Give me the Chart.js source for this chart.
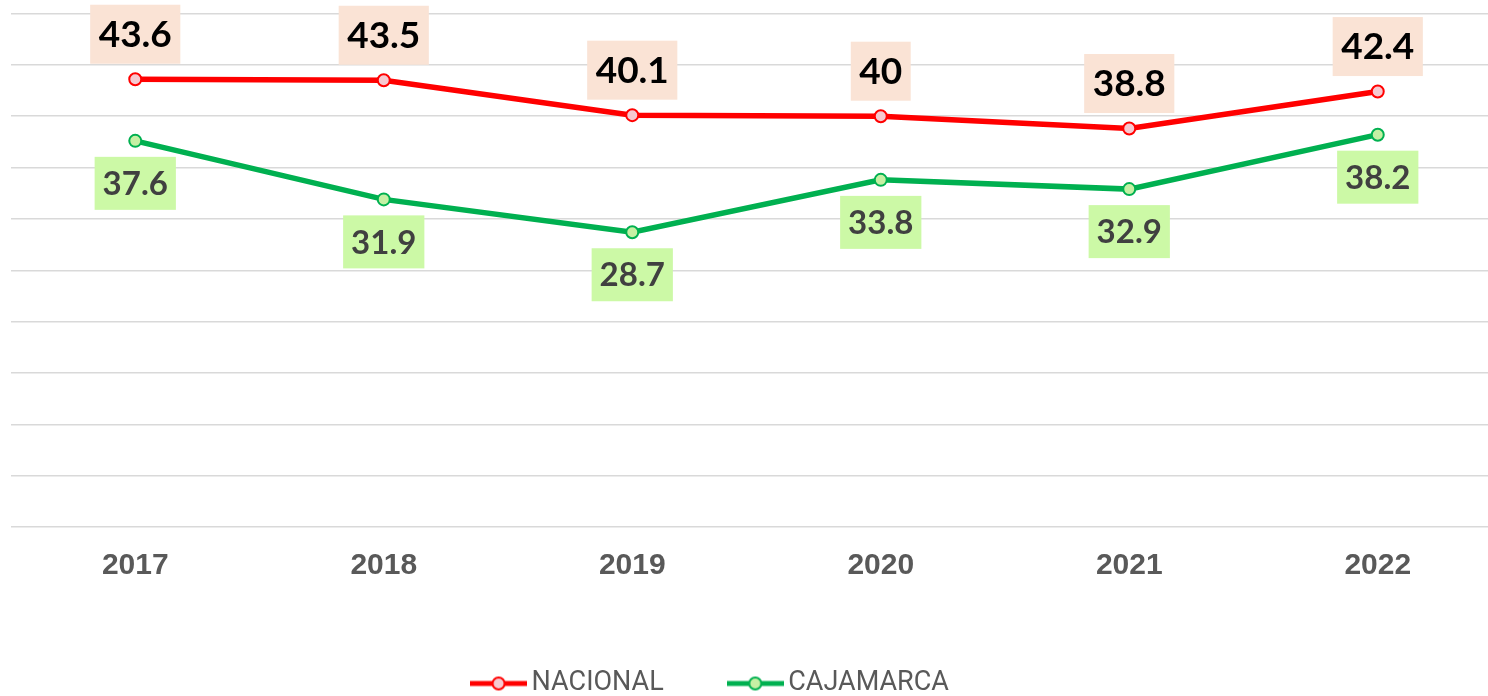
<!DOCTYPE html>
<html>
<head>
<meta charset="utf-8">
<script src="https://cdn.jsdelivr.net/npm/chart.js@4"></script>
<style>
  html, body { margin: 0; padding: 0; background: #fff; overflow: hidden; }
  #wrap { position: absolute; left: 0; top: 0; width: 1510px; height: 707px; }
</style>
</head>
<body>
<div id="wrap"><canvas id="chart"></canvas></div>
<script>
const years = ["2017", "2018", "2019", "2020", "2021", "2022"];
const nacional = [43.6, 43.5, 40.1, 40, 38.8, 42.4];
const cajamarca = [37.6, 31.9, 28.7, 33.8, 32.9, 38.2];

// label box styles per dataset (above for nacional, below for cajamarca)
const labelStyles = [
  { bg: "#fae3d5", color: "#000000", font: "bold 37px Lato", dy: -45, h: 59, padX: 8.5 },
  { bg: "#ccf9a6", color: "#404040", font: "bold 33px Lato", dy: 42.5, h: 53, padX: 8 }
];

function legendMarker(line, fill) {
  const c = document.createElement("canvas");
  c.width = 57; c.height = 16;
  const g = c.getContext("2d");
  g.strokeStyle = line;
  g.lineWidth = 5;
  g.beginPath(); g.moveTo(0, 8); g.lineTo(57, 8); g.stroke();
  g.beginPath(); g.arc(28.5, 8, 6, 0, Math.PI * 2);
  g.fillStyle = fill; g.fill();
  g.lineWidth = 2; g.stroke();
  return c;
}

const dataLabels = {
  id: "dataLabels",
  afterLayout(chart) {
    // legend sits a bit left of the plot centre, like the original
    const lg = chart.legend;
    const d = 714 - (lg.left + lg.right) / 2;
    lg.left += d;
    lg.right += d;
  },
  afterDatasetsDraw(chart) {
    const ctx = chart.ctx;
    chart.data.datasets.forEach((ds, i) => {
      const st = labelStyles[i];
      chart.getDatasetMeta(i).data.forEach((pt, j) => {
        const txt = String(ds.data[j]);
        ctx.save();
        ctx.font = st.font;
        const w = ctx.measureText(txt).width + st.padX * 2;
        const cy = pt.y + st.dy;
        ctx.fillStyle = st.bg;
        ctx.fillRect(pt.x - w / 2, cy - st.h / 2, w, st.h);
        ctx.fillStyle = st.color;
        ctx.textAlign = "center";
        ctx.textBaseline = "middle";
        ctx.fillText(txt, pt.x, cy + 1);
        ctx.restore();
      });
    });
  }
};

new Chart(document.getElementById("chart"), {
  type: "line",
  data: {
    labels: years,
    datasets: [
      {
        label: "NACIONAL",
        data: nacional,
        borderColor: "#ff0000",
        borderWidth: 5.5,
        pointRadius: 6,
        pointBorderWidth: 2,
        pointBackgroundColor: "#f6c9d0",
        pointBorderColor: "#ff0000",
        tension: 0
      },
      {
        label: "CAJAMARCA",
        data: cajamarca,
        borderColor: "#00b050",
        borderWidth: 5.5,
        pointRadius: 6,
        pointBorderWidth: 2,
        pointBackgroundColor: "#c6f0a4",
        pointBorderColor: "#00b050",
        tension: 0
      }
    ]
  },
  options: {
    responsive: true,
    maintainAspectRatio: false,
    animation: false,
    layout: { padding: { top: 13.5, left: 11, right: 0, bottom: 0 } },
    scales: {
      x: {
        offset: true,
        grid: { display: false, drawTicks: false },
        border: { display: false },
        ticks: {
          color: "#595959",
          font: { family: "Liberation Sans", size: 30, weight: "bold" },
          padding: 21
        },
        afterFit(scale) { scale.height = 71; }
      },
      y: {
        min: 0,
        max: 50,
        ticks: { display: false, stepSize: 5 },
        grid: { color: "#d9d9d9", lineWidth: 1.5, drawTicks: false },
        border: { display: false }
      }
    },
    plugins: {
      tooltip: { enabled: false },
      legend: {
        position: "bottom",
        labels: {
          usePointStyle: true,
          pointStyleWidth: 39,
          padding: 72,
          color: "#595959",
          font: { family: "Roboto", size: 27 },
          generateLabels(chart) {
            return chart.data.datasets.map((ds, i) => ({
              text: ds.label,
              datasetIndex: i,
              fontColor: "#595959",
              pointStyle: legendMarker(ds.borderColor, ds.pointBackgroundColor),
              hidden: false,
              lineWidth: 0
            }));
          }
        }
      }
    }
  },
  plugins: [dataLabels]
});
</script>
</body>
</html>
